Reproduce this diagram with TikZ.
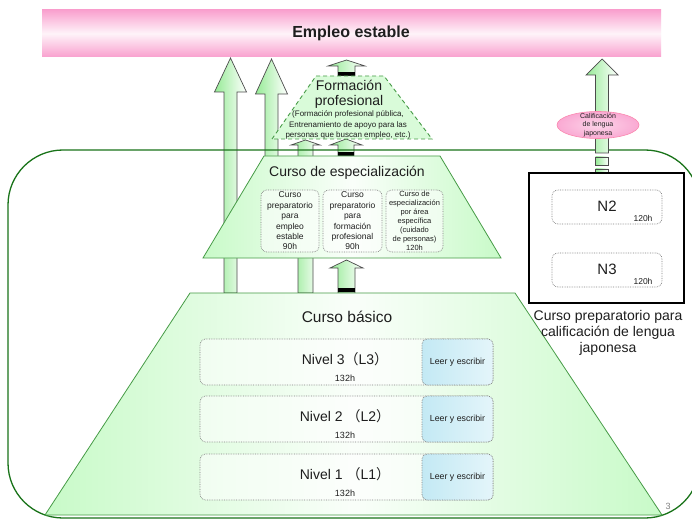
\documentclass[tikz,border=0pt]{standalone}
\usepackage{fontspec}
\setmainfont{Liberation Sans}
\newfontfamily\cjk{Noto Sans CJK JP}
\usetikzlibrary{shapes.geometric}

\definecolor{bordegreen}{RGB}{25,115,25}
\definecolor{trapgreen}{RGB}{70,155,70}
\definecolor{lightgreen}{RGB}{200,250,200}
\definecolor{arrowgreen}{RGB}{150,235,150}
\definecolor{bannerpink}{RGB}{249,160,206}
\definecolor{boxblue}{RGB}{195,233,244}
\definecolor{texto}{RGB}{30,30,30}

\tikzset{
  trapecio/.style={draw=trapgreen, line width=0.8pt, left color=lightgreen, right color=lightgreen, middle color=white!90!lightgreen},
  flecha/.style={draw=black!70, line width=0.7pt, left color=arrowgreen, right color=white},
  cajita/.style={draw=gray, densely dotted, line width=0.7pt, rounded corners=6pt, fill=white, fill opacity=0.55, inner sep=0pt},
  leerbox/.style={draw=gray, densely dotted, line width=0.7pt, rounded corners=5pt, left color=boxblue, right color=boxblue!45!white, inner sep=0pt,
    minimum width=71pt, minimum height=46pt, font=\fontsize{8.8}{10}\selectfont, text=texto},
  titulo/.style={font=\fontsize{14}{16}\selectfont, text=texto, inner sep=0pt},
  chico/.style={font=\fontsize{8.5}{10.4}\selectfont, text=texto, align=center, inner sep=0pt},
  horas/.style={font=\fontsize{9}{10}\selectfont, text=texto, inner sep=0pt}
}

% cx, bottom, head base, tip, shaft half width, head half width
\newcommand\flechabloque[6]{%
  \draw[flecha] (#1-#5,#2) -- (#1-#5,#3) -- (#1-#6,#3) -- (#1,#4) -- (#1+#6,#3) -- (#1+#5,#3) -- (#1+#5,#2) -- cycle;}

\begin{document}
\begin{tikzpicture}[x=1pt,y=-1pt]
	\clip (0,0) rectangle (692,521);
	\fill[white] (0,0) rectangle (692,521);

	% banner
	\draw[draw=none, top color=bannerpink, bottom color=bannerpink, middle color=bannerpink!12!white] (42,10) rectangle (661,57);
	\node[font=\bfseries\fontsize{16}{18}\selectfont, text=texto] (empleo) at (351,33) {Empleo estable};

	% arrows behind
	\flechabloque{230.5}{293}{92}{58}{6.5}{16}
	\flechabloque{271.5}{200}{94}{59}{6.5}{16}
	\flechabloque{305.5}{293}{145}{140}{7.5}{14.5}
	\flechabloque{346}{156}{145}{139}{8}{16}
	\fill (338,152) rectangle (354,156);
	\flechabloque{346.5}{293}{268}{260}{8.5}{16.5}
	\fill (338,288) rectangle (355,292);
	\flechabloque{346.5}{76}{66}{60}{8.5}{18.5}
	\fill (338,72) rectangle (355,76);

	% frame
	\draw[bordegreen, line width=1.3pt, rounded corners=55pt] (8,150) rectangle (700,518);

	% right arrow
	\flechabloque{602}{153}{75}{59}{6.5}{16}
	\draw[flecha] (595.5,157) rectangle (608.5,165);
	\draw[flecha] (595.5,169) rectangle (608.5,173);
	\node[ellipse, draw=bannerpink!85!red, line width=0.6pt, inner color=bannerpink!45!white, outer color=bannerpink!90!white,
	  minimum width=82pt, minimum height=27pt, inner sep=0pt] (calif) at (598,125) {};
	\node[font=\fontsize{7}{8.2}\selectfont, text=texto, align=center] (califtxt) at (calif) {Calificación\\de lengua\\japonesa};

	% formacion profesional
	\draw[trapgreen, line width=0.9pt, dash pattern=on 4pt off 3pt, fill=lightgreen!70!white] (272,139) -- (316,76) -- (384,76) -- (432,139) -- cycle;
	\node[titulo] (formacion) at (349,85) {Formación};
	\node[titulo] (profesional) at (349,102) {profesional};
	\node[chico, font=\fontsize{8}{10.6}\selectfont] (publica) at (348,125) {(Formación profesional pública,\\Entrenamiento de apoyo para las\\personas que buscan empleo, etc.)};

	% curso de especializacion
	\draw[trapecio] (203,258) -- (264,156) -- (440,156) -- (501,258) -- cycle;
	\node[titulo] (especial) at (347,173) {Curso de especialización};
	\node[cajita, minimum width=58pt, minimum height=62pt] (empleobox) at (290,221) {};
	\node[cajita, minimum width=59pt, minimum height=62pt] (formbox) at (352.5,221) {};
	\node[cajita, minimum width=57pt, minimum height=62pt] (cuidadobox) at (414.5,221) {};
	\node[chico] at (empleobox) {Curso\\preparatorio\\para\\empleo\\estable\\90h};
	\node[chico] at (formbox) {Curso\\preparatorio\\para\\formación\\profesional\\90h};
	\node[chico, font=\fontsize{7.5}{8.9}\selectfont] at (cuidadobox) {Curso de\\especialización\\por área\\específica\\(cuidado\\de personas)\\120h};

	% curso basico
	\draw[trapecio] (45,515) -- (190,293) -- (515,293) -- (662,515) -- cycle;
	\node[titulo, font=\fontsize{15.5}{18}\selectfont] (basico) at (347,317) {Curso básico};
	\foreach \n/\y/\sp in {3/362/, 2/419/ , 1/477/ } {
		\node[cajita, minimum width=293pt, minimum height=46pt] (nivel\n) at (346.5,\y) {};
		\node[leerbox] (leer\n) at (457.5,\y) {Leer y escribir};
		\node[titulo] at (345,\y-3) {Nivel \n\sp{\cjk （}L\n{\cjk ）}};
		\node[horas] at (345,\y+16) {132h};
	}

	% curso preparatorio japones
	\draw[black, line width=1.5pt, fill=white] (529,173) rectangle (684,303);
	\node[cajita, minimum width=110pt, minimum height=34pt] (ndos) at (607,207) {};
	\node[cajita, minimum width=110pt, minimum height=34pt] (ntres) at (607,270) {};
	\node[titulo, font=\fontsize{15}{17}\selectfont] at (607,206) {N2};
	\node[titulo, font=\fontsize{15}{17}\selectfont] at (607,269) {N3};
	\node[horas, font=\fontsize{8.5}{9}\selectfont] at (643,218) {120h};
	\node[horas, font=\fontsize{8.5}{9}\selectfont] at (643,281) {120h};
	\node[font=\fontsize{14}{16}\selectfont, text=texto, align=center] (jlpt) at (608,333) {Curso preparatorio para\\calificación de lengua\\japonesa};

	\node[font=\fontsize{9}{10}\selectfont, text=gray] (pagina) at (668,506) {3};
\end{tikzpicture}
\end{document}
